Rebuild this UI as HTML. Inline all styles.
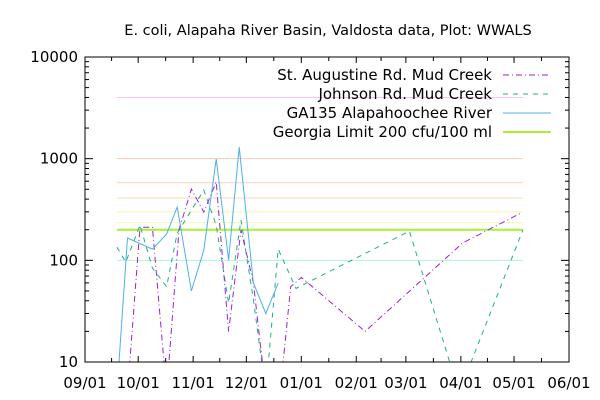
<!DOCTYPE html>
<html><head><meta charset="utf-8"><style>
body{margin:0;background:#fff;}
svg{display:block;font-family:"DejaVu Sans","Liberation Sans",sans-serif;}
</style></head><body>
<svg id="chart" width="600" height="400" viewBox="0 0 600 400">
<text x="328" y="35" font-size="14.5" text-anchor="middle">E. coli, Alapaha River Basin, Valdosta data, Plot: WWALS</text>
<g id="grid"></g><g id="series"></g><g id="axes"></g><g id="legend"></g>
</svg>
<script>
const monthLabels=["09/01","10/01","11/01","12/01","01/01","02/01","03/01","04/01","05/01","06/01"];
const monthDays=[0,30,61,91,122,153,181,212,242,273];
const yTicks=[10,100,1000,10000];
const refLevels=[4000,1000,580,410,300,235,100];
const refColors=["#f6c6ee","#f8c8b8","#f8d2b8","#f8d8b8","#f4f4a8","#f4f8b8","#b0f4d8"];
const limitValue=200;
const blueDays=[18,24,38,46,52,60,67,74,81,87,95,102,109];
const blueVals=[5,166,129,181,334,50,126,990,101,1300,60,30,60];
const purpleDays=[24,31,38,46,53,60,67,74,81,88,95,102,110,116,122,158,213,246];
const purpleVals=[5,212,212,5,199,502,298,589,20,199,60,5,5,55,68,20,148,292];
const greenDays=[18,23,31,38,46,52,60,67,74,81,88,95,102,109,119,183,211,247];
const greenVals=[135,96,222,84,55,185,312,491,222,38,249,41,5,129,53,194,5,199];
const X0=85,X1=569,Y0=362,Y1=57;
const xs=d=>X0+(d/273)*(X1-X0);
const ys=v=>Y0-(Math.log10(v)-1)/3*(Y0-Y1);
const NS="http://www.w3.org/2000/svg";
function mk(t,a,p){const e=document.createElementNS(NS,t);for(const k in a)e.setAttribute(k,a[k]);p.appendChild(e);return e;}
const grid=document.getElementById('grid'),ser=document.getElementById('series'),ax=document.getElementById('axes'),lg=document.getElementById('legend');
refLevels.forEach((v,i)=>{const l=mk('line',{x1:xs(18),x2:xs(247),y1:ys(v),y2:ys(v),stroke:refColors[i],'stroke-width':1},grid);

});
const lim=mk('line',{x1:xs(18),x2:xs(247),y1:ys(limitValue),y2:ys(limitValue),stroke:'#a8f030','stroke-width':2},grid);


const cp=mk('clipPath',{id:'cp'},ser);mk('rect',{x:X0,y:Y1,width:X1-X0,height:Y0-Y1},cp);
function series(days,vals,color,dash,name){const pts=days.map((d,i)=>xs(d).toFixed(1)+','+ys(vals[i]).toFixed(1)).join(' ');
const p=mk('polyline',{points:pts,fill:'none',stroke:color,'stroke-width':1,'stroke-dasharray':dash,'clip-path':'url(#cp)'},ser);

}
series(greenDays,greenVals,'#20b080','5,5','johnson-rd-series');
series(purpleDays,purpleVals,'#9a20e0','6,3,1,3','st-augustine-series');
series(blueDays,blueVals,'#50b0ec','none','ga135-series');
const fr=mk('rect',{x:X0,y:Y1,width:X1-X0,height:Y0-Y1,fill:'none',stroke:'#000','stroke-width':1},ax);


monthDays.forEach((d,i)=>{const x=xs(d);mk('line',{x1:x,x2:x,y1:Y0,y2:Y0-6,stroke:'#000'},ax);mk('line',{x1:x,x2:x,y1:Y1,y2:Y1+6,stroke:'#000'},ax);
if(i<monthDays.length-1){const m=xs(d+(monthDays[i+1]-d)/2);mk('line',{x1:m,x2:m,y1:Y0,y2:Y0-4,stroke:'#000'},ax);mk('line',{x1:m,x2:m,y1:Y1,y2:Y1+4,stroke:'#000'},ax);}
const t=mk('text',{x:x,y:388,'font-size':15,'text-anchor':'middle'},ax);t.textContent=monthLabels[i];

});
yTicks.forEach((v,i)=>{const y=ys(v);mk('line',{x1:X0,x2:X0+8,y1:y,y2:y,stroke:'#000'},ax);mk('line',{x1:X1,x2:X1-8,y1:y,y2:y,stroke:'#000'},ax);
const t=mk('text',{x:78,y:y+5,'font-size':15,'text-anchor':'end'},ax);t.textContent=String(v);


if(i<yTicks.length-1)for(let k=2;k<10;k++){const yy=ys(v*k);mk('line',{x1:X0,x2:X0+4,y1:yy,y2:yy,stroke:'#000'},ax);mk('line',{x1:X1,x2:X1-4,y1:yy,y2:yy,stroke:'#000'},ax);}});
const legendNames=["St. Augustine Rd. Mud Creek","Johnson Rd. Mud Creek","GA135 Alapahoochee River","Georgia Limit 200 cfu/100 ml"];
const legendStyles=[['#9a20e0','6,3,1,3',1],['#20b080','5,5',1],['#50b0ec','none',1],['#a8f030','none',2]];
legendNames.forEach((n,i)=>{const y=75+i*19;const t=mk('text',{x:492,y:y+5,'font-size':15,'text-anchor':'end'},lg);t.textContent=n;


const l=mk('line',{x1:503,x2:551,y1:y,y2:y,stroke:legendStyles[i][0],'stroke-dasharray':legendStyles[i][1],'stroke-width':legendStyles[i][2]},lg);

});
</script>
</body></html>
